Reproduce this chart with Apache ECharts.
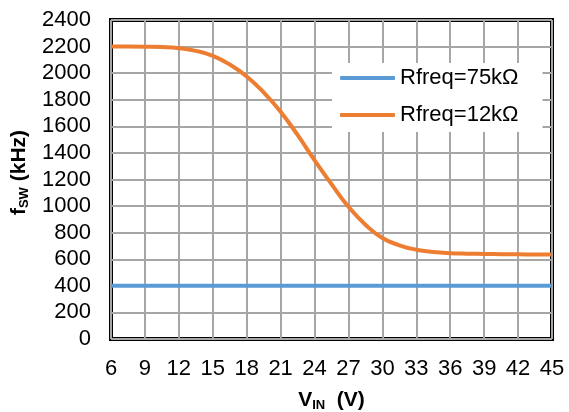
<!DOCTYPE html>
<html>
<head>
<meta charset="utf-8">
<script src="https://cdn.jsdelivr.net/npm/echarts@6/dist/echarts.min.js"></script>
<style>html,body{margin:0;padding:0;background:#fff;}#c{width:569px;height:412px;}</style>
</head>
<body>
<div id="c"></div>
<script>
var vin = [6,7.5,9,10.5,12,13.5,15,16.5,18,19.5,21,22.5,24,25.5,27,28.5,30,31.5,33,34.5,36,37.5,39,40.5,42,43.5,45];
var f75k = [400,400,400,400,400,400,400,400,400,400,400,400,400,400,400,400,400,400,400,400,400,400,400,400,400,400,400];
var f12k = [2200,2200,2199,2196,2188,2168,2130,2065,1975,1855,1710,1535,1345,1165,995,860,760,705,672,655,646,642,640,638,637,636,635];
var seriesNames = ['Rfreq=75kΩ','Rfreq=12kΩ'];
var xTicks = {min:6, max:45, interval:3};
var yTicks = {min:0, max:2400, interval:200};

function pairs(xs, ys){ return xs.map(function(x,i){return [x, ys[i]];}); }

var font = '"Liberation Sans", Arial, sans-serif';
var chart = echarts.init(document.getElementById('c'), null, {renderer:'canvas'});
chart.setOption({
  animation:false,
  backgroundColor:'#fff',
  grid:{left:111, right:17, top:20, bottom:73, show:true, borderColor:'#000', borderWidth:4, backgroundColor:'transparent', containLabel:false, outerBoundsMode:'none'},
  legend:{
    left:332, top:63, orient:'vertical', backgroundColor:'#fff',
    padding:[4,24,6,8], itemGap:15, itemWidth:55, itemHeight:4, icon:'roundRect',
    textStyle:{fontFamily:font, fontSize:22, color:'#000', padding:[0,0,0,0]},
    data:seriesNames
  },
  xAxis:{
    type:'value', min:xTicks.min, max:xTicks.max, interval:xTicks.interval,
    axisLine:{show:false}, axisTick:{show:false},
    splitLine:{show:true, lineStyle:{color:'#a6a6a6', width:2}},
    axisLabel:{fontFamily:font, fontSize:22, color:'#000', margin:19, formatter:function(v){return String(v);}},
    name:'{b|V}{s|IN}{b|  (V)}', nameLocation:'middle', nameGap:51,
    nameTextStyle:{rich:{b:{fontFamily:font, fontSize:21, fontWeight:'bold', color:'#000'}, s:{fontFamily:font, fontSize:13, fontWeight:'bold', color:'#000', padding:[0,0,-10,0]}}}
  },
  yAxis:{
    type:'value', min:yTicks.min, max:yTicks.max, interval:yTicks.interval,
    axisLine:{show:false}, axisTick:{show:false},
    splitLine:{show:true, lineStyle:{color:'#a6a6a6', width:2}},
    axisLabel:{fontFamily:font, fontSize:22, color:'#000', margin:20, formatter:function(v){return String(v);}},
    name:'{b|f}{s|SW}{b| (kHz)}', nameLocation:'middle', nameGap:79, nameRotate:90,
    nameTextStyle:{padding:[0,0,0,14], rich:{b:{fontFamily:font, fontSize:21, fontWeight:'bold', color:'#000'}, s:{fontFamily:font, fontSize:13, fontWeight:'bold', color:'#000', padding:[0,0,-10,0]}}}
  },
  series:[
    {name:seriesNames[0], type:'line', data:pairs(vin, f75k), showSymbol:false, symbol:'none', smooth:true, lineStyle:{color:'#5b9bd5', width:4}, itemStyle:{color:'#5b9bd5'}},
    {name:seriesNames[1], type:'line', data:pairs(vin, f12k), showSymbol:false, symbol:'none', smooth:true, lineStyle:{color:'#ed7d31', width:4}, itemStyle:{color:'#ed7d31'}}
  ]
});
</script>
</body>
</html>
